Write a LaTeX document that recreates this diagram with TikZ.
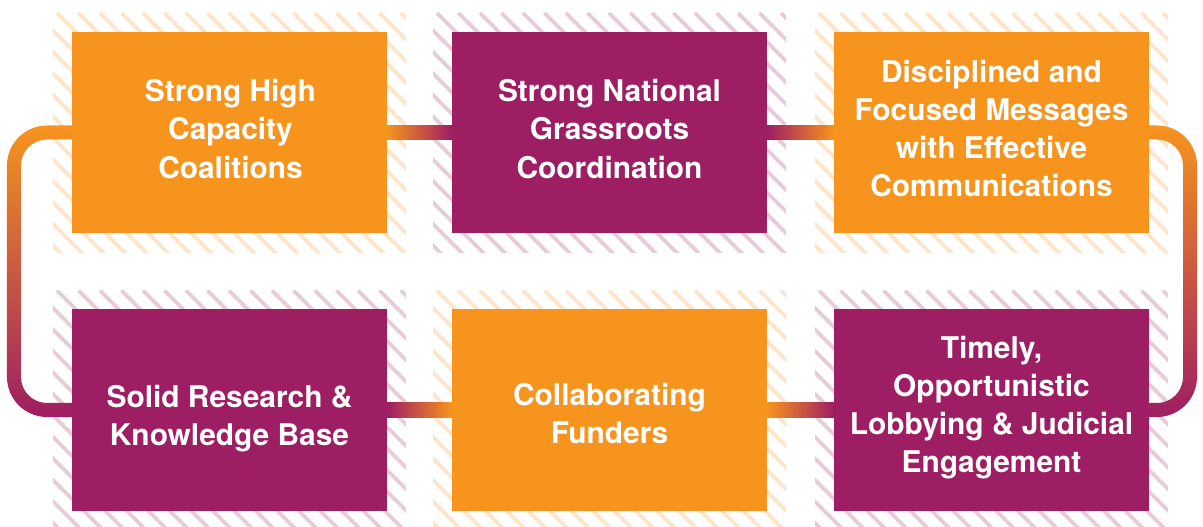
\documentclass[tikz,border=0pt]{standalone}
\usepackage{fontspec}
\setmainfont{TeX Gyre Heros}
\usetikzlibrary{calc}
\definecolor{orng}{RGB}{247,148,30}
\definecolor{purp}{RGB}{158,30,99}
\definecolor{orngpale}{RGB}{254,228,200}
\definecolor{purppale}{RGB}{230,204,217}
\pgfdeclarelayer{bg}
\pgfsetlayers{bg,main}
\newcommand\hatchit[2]{%
  \begin{scope}
    \clip ($(#1.north west)+(-19,-19)$) rectangle ($(#1.south east)+(19,20)$);
    \foreach \k in {-13,...,17}
      \draw[#2] ($(#1.north west)+(-15+21.5*\k,-19)$) -- ++(320,320);
  \end{scope}}
\begin{document}
\begin{tikzpicture}[x=1bp,y=-1bp,
  boxstyle/.style={rectangle, minimum width=315bp, minimum height=201bp, inner sep=0pt, outer sep=0pt},
  obox/.style={boxstyle, fill=orng},
  pbox/.style={boxstyle, fill=purp},
  lbl/.style={text=white, align=center, inner sep=0pt, font=\bfseries\fontsize{30}{38.2}\selectfont},
  ohatch/.style={draw=orngpale, line width=3.7bp},
  phatch/.style={draw=purppale, line width=3.7bp}]
\useasboundingbox (0,0) rectangle (1203,527);
\clip (0,0) rectangle (1203,527);

% boxes
\node[obox] (b1) at (229.5,132.5) {};
\node[pbox] (b2) at (609.5,132.5) {};
\node[obox] (b3) at (991.5,132.5) {};
\node[pbox] (b4) at (229.5,410) {};
\node[obox] (b5) at (609.5,410) {};
\node[pbox] (b6) at (991.5,410) {};

% labels
\node[lbl] (t1) at ($(b1)+(1,-3.5)$) {Strong High\\Capacity\\Coalitions};
\node[lbl] (t2) at ($(b2)+(0,-3.5)$) {Strong National\\Grassroots\\Coordination};
\node[lbl] (t3) at ($(b3)+(0,-4)$) {Disciplined and\\Focused Messages\\with Effective\\Communications};
\node[lbl] (t4) at ($(b4)+(0,9)$) {Solid Research \&\\Knowledge Base};
\node[lbl] (t5) at ($(b5)+(0,3.5)$) {Collaborating\\Funders};
\node[lbl] (t6) at ($(b6)+(0,-2)$) {Timely,\\Opportunistic\\Lobbying \& Judicial\\Engagement};

\begin{pgfonlayer}{bg}
  % hatched backgrounds
  \hatchit{b1}{ohatch}
  \hatchit{b2}{phatch}
  \hatchit{b3}{ohatch}
  \hatchit{b4}{phatch}
  \hatchit{b5}{ohatch}
  \hatchit{b6}{phatch}

  % horizontal connectors
  \shade[left color=orng, right color=purp] ($(b1.east)+(0,-7)$) rectangle ($(b2.west)+(0,7)$);
  \shade[left color=purp, right color=orng] ($(b2.east)+(0,-7)$) rectangle ($(b3.west)+(0,7)$);
  \shade[left color=purp, right color=orng] ($(b4.east)+(0,-7)$) rectangle ($(b5.west)+(0,7)$);
  \shade[left color=orng, right color=purp] ($(b5.east)+(0,-7)$) rectangle ($(b6.west)+(0,7)$);

  % left loop b1 -> b4
  \shade[top color=orng, bottom color=purp]
    ($(b1.west)+(8,-7)$) -- ($(b1.west)+(-25,-7)$)
    .. controls ($(b1.west)+(-47.1,-7)$) and ($(b1.west)+(-65,10.9)$) .. ($(b1.west)+(-65,33)$)
    -- ($(b4.west)+(-65,-33)$)
    .. controls ($(b4.west)+(-65,-10.9)$) and ($(b4.west)+(-47.1,7)$) .. ($(b4.west)+(-25,7)$)
    -- ($(b4.west)+(8,7)$) -- ($(b4.west)+(8,-7)$) -- ($(b4.west)+(-25,-7)$)
    .. controls ($(b4.west)+(-39.36,-7)$) and ($(b4.west)+(-51,-18.64)$) .. ($(b4.west)+(-51,-33)$)
    -- ($(b1.west)+(-51,33)$)
    .. controls ($(b1.west)+(-51,18.64)$) and ($(b1.west)+(-39.36,7)$) .. ($(b1.west)+(-25,7)$)
    -- ($(b1.west)+(8,7)$) -- cycle;

  % right loop b3 -> b6
  \shade[top color=orng, bottom color=purp]
    ($(b3.east)+(-8,-7)$) -- ($(b3.east)+(8,-7)$)
    .. controls ($(b3.east)+(30.1,-7)$) and ($(b3.east)+(48,10.9)$) .. ($(b3.east)+(48,33)$)
    -- ($(b6.east)+(48,-33)$)
    .. controls ($(b6.east)+(48,-10.9)$) and ($(b6.east)+(30.1,7)$) .. ($(b6.east)+(8,7)$)
    -- ($(b6.east)+(-8,7)$) -- ($(b6.east)+(-8,-7)$) -- ($(b6.east)+(8,-7)$)
    .. controls ($(b6.east)+(22.36,-7)$) and ($(b6.east)+(34,-18.64)$) .. ($(b6.east)+(34,-33)$)
    -- ($(b3.east)+(34,33)$)
    .. controls ($(b3.east)+(34,18.64)$) and ($(b3.east)+(22.36,7)$) .. ($(b3.east)+(8,7)$)
    -- ($(b3.east)+(-8,7)$) -- cycle;
\end{pgfonlayer}
\end{tikzpicture}
\end{document}
